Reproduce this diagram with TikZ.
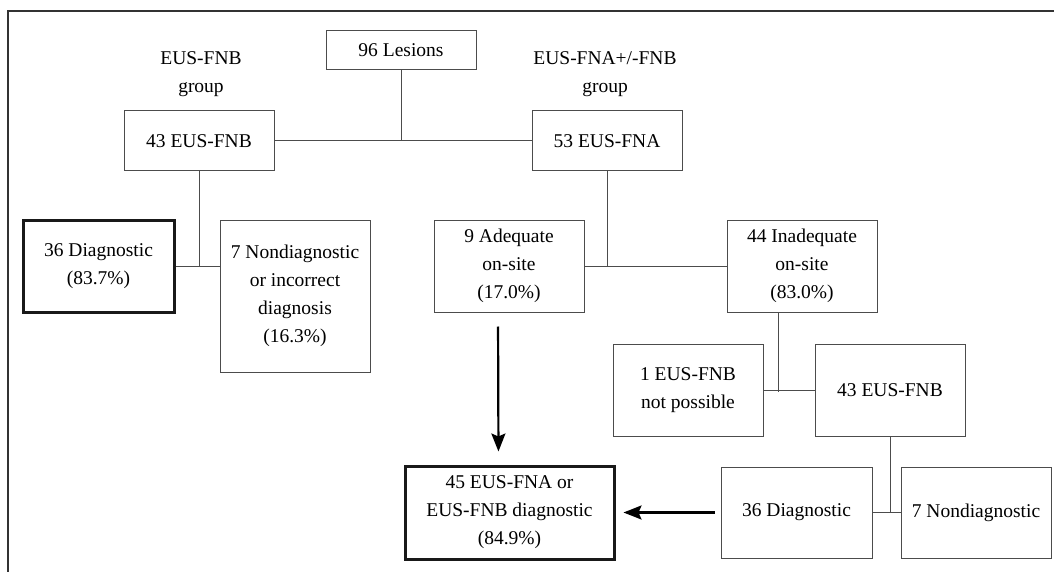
\documentclass[tikz,border=0pt]{standalone}
\usepackage{fontspec}
\setmainfont{Liberation Serif}
\usetikzlibrary{arrows.meta}

\begin{document}
\begin{tikzpicture}[x=1pt,y=-1pt,
  box/.style={draw=black!70, line width=1pt, align=center, inner sep=0pt, font=\fontsize{19.5}{28}\selectfont},
  keybox/.style={box, draw=black!90, line width=3pt},
  lbl/.style={align=center, inner sep=0pt, font=\fontsize{19.5}{28}\selectfont},
  link/.style={draw=black!70, line width=1pt},
  arr/.style={line width=2.2pt, -{Stealth[length=18pt,width=14pt,inset=3pt]}}]

\useasboundingbox (0,0) rectangle (1054,572);
\draw [line width=1.3pt, black!80] (1054,11) -- (8,11) -- (8,572);

\node[box, minimum width=150, minimum height=39] (lesions) at (401,50.5) {96 Lesions};
\node[lbl] (fnbgrp) at (201,74) {EUS-FNB\\group};
\node[lbl] (fnagrp) at (605,74) {EUS-FNA+/-FNB\\group};

\node[box, minimum width=150, minimum height=60] (fnb) at (199,141) {43 EUS-FNB};
\node[box, minimum width=150, minimum height=60] (fna) at (607,141) {53 EUS-FNA};

\node[keybox, minimum width=151, minimum height=92] (diagA) at (98.5,266) {36 Diagnostic\\(83.7\%)};
\node[box, minimum width=150, minimum height=152] (nondiagA) at (295,296) {7 Nondiagnostic\\or incorrect\\diagnosis\\(16.3\%)};

\node[box, minimum width=150, minimum height=92] (adequate) at (509,266) {9 Adequate\\on-site\\(17.0\%)};
\node[box, minimum width=150, minimum height=92] (inadequate) at (802,266) {44 Inadequate\\on-site\\(83.0\%)};

\node[box, minimum width=150, minimum height=92] (notposs) at (688,390) {1 EUS-FNB\\not possible};
\node[box, minimum width=150, minimum height=92] (fnbB) at (890,390) {43 EUS-FNB};

\node[box, minimum width=151, minimum height=91] (diagB) at (796.5,512.5) {36 Diagnostic};
\node[box, minimum width=150, minimum height=91] (nondiagB) at (976,512.5) {7 Nondiagnostic};

\node[keybox, minimum width=209, minimum height=93] (total) at (509.5,512.5) {45 EUS-FNA or\\EUS-FNB diagnostic\\(84.9\%)};

\coordinate (jB) at (778,392);

\draw[link] (lesions.south) -- (lesions.south |- fnb.east);
\draw[link] (fnb.east) -- (fna.west);
\draw[link] (fnb.south) -- (fnb.south |- diagA.east);
\draw[link] (diagA.east) -- (diagA.east -| nondiagA.west);
\draw[link] (fna.south) -- (fna.south |- adequate.east);
\draw[link] (adequate.east) -- (inadequate.west);
\draw[link] (jB |- inadequate.south) -- (jB);
\draw[link] (notposs.east) -- (fnbB.west);
\draw[link] (fnbB.south) -- (fnbB.south |- diagB.east);
\draw[link] (diagB.east) -- (nondiagB.west);

\draw[arr, shorten <=14pt, shorten >=13pt] ([xshift=-11pt]adequate.south) -- ([xshift=-11pt]total.north);
\draw[arr, shorten <=6pt, shorten >=8pt] (diagB.west) -- (total.east);

\end{tikzpicture}
\end{document}
